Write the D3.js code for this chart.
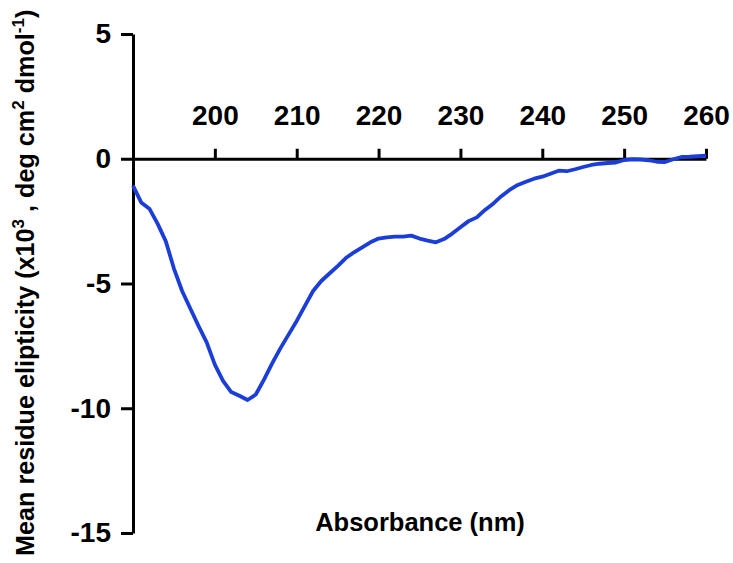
<!DOCTYPE html>
<html>
<head>
<meta charset="utf-8">
<script src="https://cdn.jsdelivr.net/npm/d3@7"></script>
<style>
  body { margin: 0; background: #fff; }
  text { font-family: "Liberation Sans", Arial, sans-serif; font-weight: bold; }
</style>
</head>
<body>
<div id="chart"></div>
<script>
(function() {
  var width = 733,
    height = 563;

  // wavelength (nm) and mean residue ellipticity (x10^3)
  var wavelengths = [190, 191, 192, 193, 194, 195, 196, 197, 198, 199,
    200, 201, 202, 203, 204, 205, 206, 207, 208, 209,
    210, 211, 212, 213, 214, 215, 216, 217, 218, 219,
    220, 221, 222, 223, 224, 225, 226, 227, 228, 229,
    230, 231, 232, 233, 234, 235, 236, 237, 238, 239,
    240, 241, 242, 243, 244, 245, 246, 247, 248, 249,
    250, 251, 252, 253, 254, 255, 256, 257, 258, 259, 260];
  var ellipticity = [-1.08, -1.75, -2.0, -2.6, -3.3, -4.4, -5.3, -6.0, -6.7, -7.36,
    -8.25, -8.9, -9.35, -9.5, -9.67, -9.45, -8.85, -8.2, -7.6, -7.05,
    -6.5, -5.9, -5.3, -4.9, -4.6, -4.3, -3.98, -3.75, -3.55, -3.35,
    -3.2, -3.15, -3.12, -3.12, -3.08, -3.2, -3.28, -3.35, -3.22, -3.0,
    -2.75, -2.5, -2.35, -2.05, -1.8, -1.5, -1.25, -1.05, -0.92, -0.8,
    -0.72, -0.6, -0.48, -0.5, -0.42, -0.33, -0.25, -0.2, -0.17, -0.15,
    -0.05, -0.02, -0.03, -0.06, -0.12, -0.13, -0.02, 0.07, 0.08, 0.1, 0.12];

  var xTicks = [200, 210, 220, 230, 240, 250, 260];
  var yTicks = [-15, -10, -5, 0, 5];

  var data = wavelengths.map(function(w, i) {
    return { wl: w, v: ellipticity[i] };
  });

  var svg = d3.select("#chart")
    .append("svg")
    .attr("width", width)
    .attr("height", height)

  var x = d3.scaleLinear().domain([190, 260]).range([133, 706])
  var y = d3.scaleLinear().domain([-15, 5]).range([533, 34])

  // plain hyphen for negatives, like the original
  var fmt = function(d) { return String(d) }

  // y axis
  var yAxis = svg.append("g")
    .attr("transform", "translate(" + x(190) + ",0)")
    .call(d3.axisLeft(y).tickValues(yTicks).tickFormat(fmt).tickSize(12).tickSizeOuter(0).tickPadding(10))
  yAxis.selectAll("path, line").attr("stroke", "#000").attr("stroke-width", 3)
  yAxis.selectAll("text").attr("font-size", 28).attr("fill", "#000")

  // x axis sits on y = 0, ticks and labels on top
  var xAxis = svg.append("g")
    .attr("transform", "translate(0," + y(0) + ")")
    .call(d3.axisTop(x).tickValues(xTicks).tickFormat(fmt).tickSize(10).tickSizeOuter(0).tickPadding(24))
  xAxis.selectAll("path, line").attr("stroke", "#000").attr("stroke-width", 3)
  xAxis.selectAll("text").attr("font-size", 28).attr("fill", "#000")

  var line = d3.line()
    .x(function(d) { return x(d.wl) })
    .y(function(d) { return y(d.v) })

  svg.append("path")
    .datum(data)
    .attr("fill", "none")
    .attr("stroke", "#1c3ed8")
    .attr("stroke-width", 3.8)
    .attr("stroke-linejoin", "round")
    .attr("d", line)

  // axis titles
  svg.append("text")
    .attr("x", 420)
    .attr("y", 531)
    .attr("text-anchor", "middle")
    .attr("font-size", 25.5)
    .text("Absorbance (nm)")

  var yTitle = svg.append("text")
    .attr("transform", "translate(34,556) rotate(-90)")
    .attr("text-anchor", "start")
    .attr("font-size", 25.2)
  yTitle.append("tspan").text("Mean residue elipticity (x10")
  yTitle.append("tspan").attr("font-size", 17).attr("dy", -10).text("3")
  yTitle.append("tspan").attr("dy", 10).text(" , deg cm")
  yTitle.append("tspan").attr("font-size", 17).attr("dy", -10).text("2")
  yTitle.append("tspan").attr("dy", 10).text(" dmol")
  yTitle.append("tspan").attr("font-size", 17).attr("dy", -10).text("-1")
  yTitle.append("tspan").attr("dy", 10).text(")")
})();
</script>
</body>
</html>
